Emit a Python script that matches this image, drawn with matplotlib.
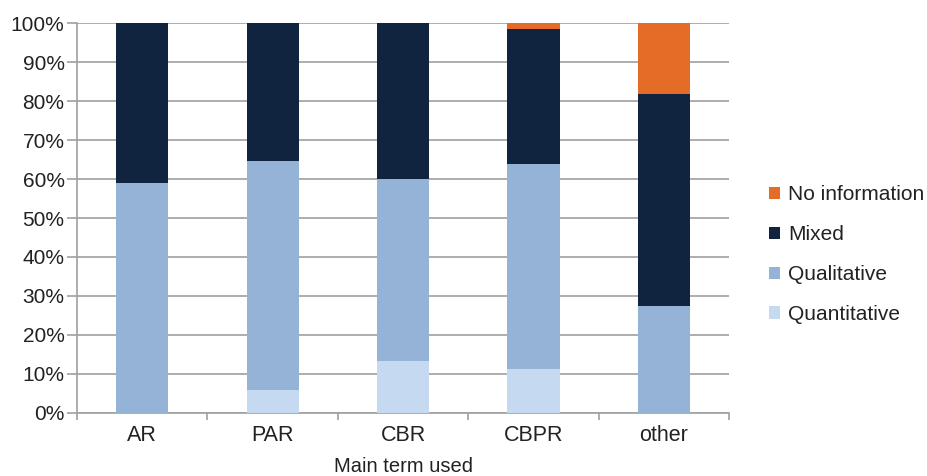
import numpy as np
import matplotlib
matplotlib.use("Agg")
import matplotlib.pyplot as plt
from matplotlib.ticker import PercentFormatter, FixedLocator

plt.rcParams['font.family'] = ['Liberation Sans', 'DejaVu Sans']

categories = ["AR", "PAR", "CBR", "CBPR", "other"]
quantitative = [0.0, 5.8, 13.4, 11.1, 0.0]
qualitative = [58.9, 58.9, 46.6, 52.8, 27.3]
mixed = [41.1, 35.3, 40.0, 34.6, 54.5]
no_information = [0.0, 0.0, 0.0, 1.5, 18.2]

series = [("Quantitative", quantitative, "#c5d9f1"),
          ("Qualitative", qualitative, "#95b3d7"),
          ("Mixed", mixed, "#10233f"),
          ("No information", no_information, "#e46c26")]

fig = plt.figure(figsize=(9.28, 4.76), dpi=100)
ax = fig.add_axes([0.083, 0.133, 0.7026, 0.818])

x = np.arange(len(categories))
bottom = np.zeros(len(categories))
handles = []
for name, vals, col in series:
    b = ax.bar(x, vals, 0.4, bottom=bottom, color=col, label=name, zorder=3)
    handles.append(b)
    bottom += np.array(vals)

ax.set_xlim(-0.5, len(categories) - 0.5)
ax.set_ylim(0, 100)
ax.set_yticks(np.arange(0, 101, 10))
ax.yaxis.set_major_formatter(PercentFormatter(decimals=0))
ax.grid(axis='y', color='#a0a0a0', linewidth=1.2, zorder=0)

ax.set_xticks(x)
ax.set_xticklabels(categories)
ax.xaxis.set_minor_locator(FixedLocator(np.arange(-0.5, len(categories), 1.0)))
ax.tick_params(axis='x', which='major', length=0, pad=9, labelsize=15.5, colors='#222222')
ax.tick_params(axis='x', which='minor', length=5, width=1.2, color='#a0a0a0')
ax.tick_params(axis='y', length=7, width=1.2, color='#a0a0a0', labelsize=15, labelcolor='#222222', pad=2)

for s in ['top', 'right']:
    ax.spines[s].set_visible(False)
for s in ['left', 'bottom']:
    ax.spines[s].set_color('#a0a0a0')
    ax.spines[s].set_linewidth(1.2)

ax.set_xlabel("Main term used", fontsize=14.5, color='#222222', labelpad=8)

leg = fig.legend(handles[::-1], [h.get_label() for h in handles[::-1]],
                 loc='center left', bbox_to_anchor=(0.8287, 0.465), frameon=False,
                 borderpad=0, borderaxespad=0,
                 fontsize=15, handlelength=0.52, handleheight=0.52,
                 handletextpad=0.4, labelspacing=1.0)
for t in leg.get_texts():
    t.set_color('#222222')

fig.savefig("out.png", dpi=100)
